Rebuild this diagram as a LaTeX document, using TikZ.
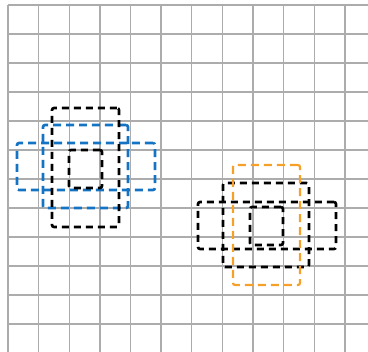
\documentclass[tikz,border=0pt]{standalone}
\usepackage{xcolor}
\usepackage{tikz}
\usetikzlibrary{positioning}
\definecolor{boxblue}{RGB}{20,115,195}
\definecolor{boxorange}{RGB}{245,160,40}

\begin{document}
\begin{tikzpicture}[
  x=1pt, y=-1pt,
  gridline/.style={draw=gray!65, line width=1.3pt},
  dbox/.style={draw, line width=2.6pt, rounded corners=2pt, inner sep=0pt,
               dash pattern=on 7pt off 5pt},
  blkbox/.style={dbox, draw=black},
  bluebox/.style={dbox, draw=boxblue, dash pattern=on 8pt off 5pt},
  orgbox/.style={dbox, draw=boxorange, line width=2.2pt, dash pattern=on 8pt off 5pt},
]
\useasboundingbox (0,0) rectangle (368,352);
% grid
\foreach \i in {0,...,11} {
  \draw[gridline] ({8+30.63*\i},5) -- ({8+30.63*\i},352);
  \draw[gridline] (8,{5+29*\i}) -- (368,{5+29*\i});
}

% left group
\node[bluebox, minimum width=138pt, minimum height=47pt] (wideL) at (86,166.5) {};
\node[bluebox, minimum width=85pt, minimum height=83pt] (midL) at (85.5,166.5) {};
\node[blkbox, minimum width=67pt, minimum height=119pt] (tallL) at (85.5,167.5) {};
\node[blkbox, minimum width=33pt, minimum height=38pt] (coreL) at (85.5,169) {};

% right group
\node[blkbox, minimum width=138pt, minimum height=47pt] (wideR) at (267,225.5) {};
\node[blkbox, minimum width=86pt, minimum height=84pt] (midR) at (266,225) {};
\node[blkbox, minimum width=33pt, minimum height=38pt] (coreR) at (266.5,226) {};
\node[orgbox, minimum width=67pt, minimum height=120pt] (tallR) at (266.5,225) {};
\end{tikzpicture}
\end{document}
